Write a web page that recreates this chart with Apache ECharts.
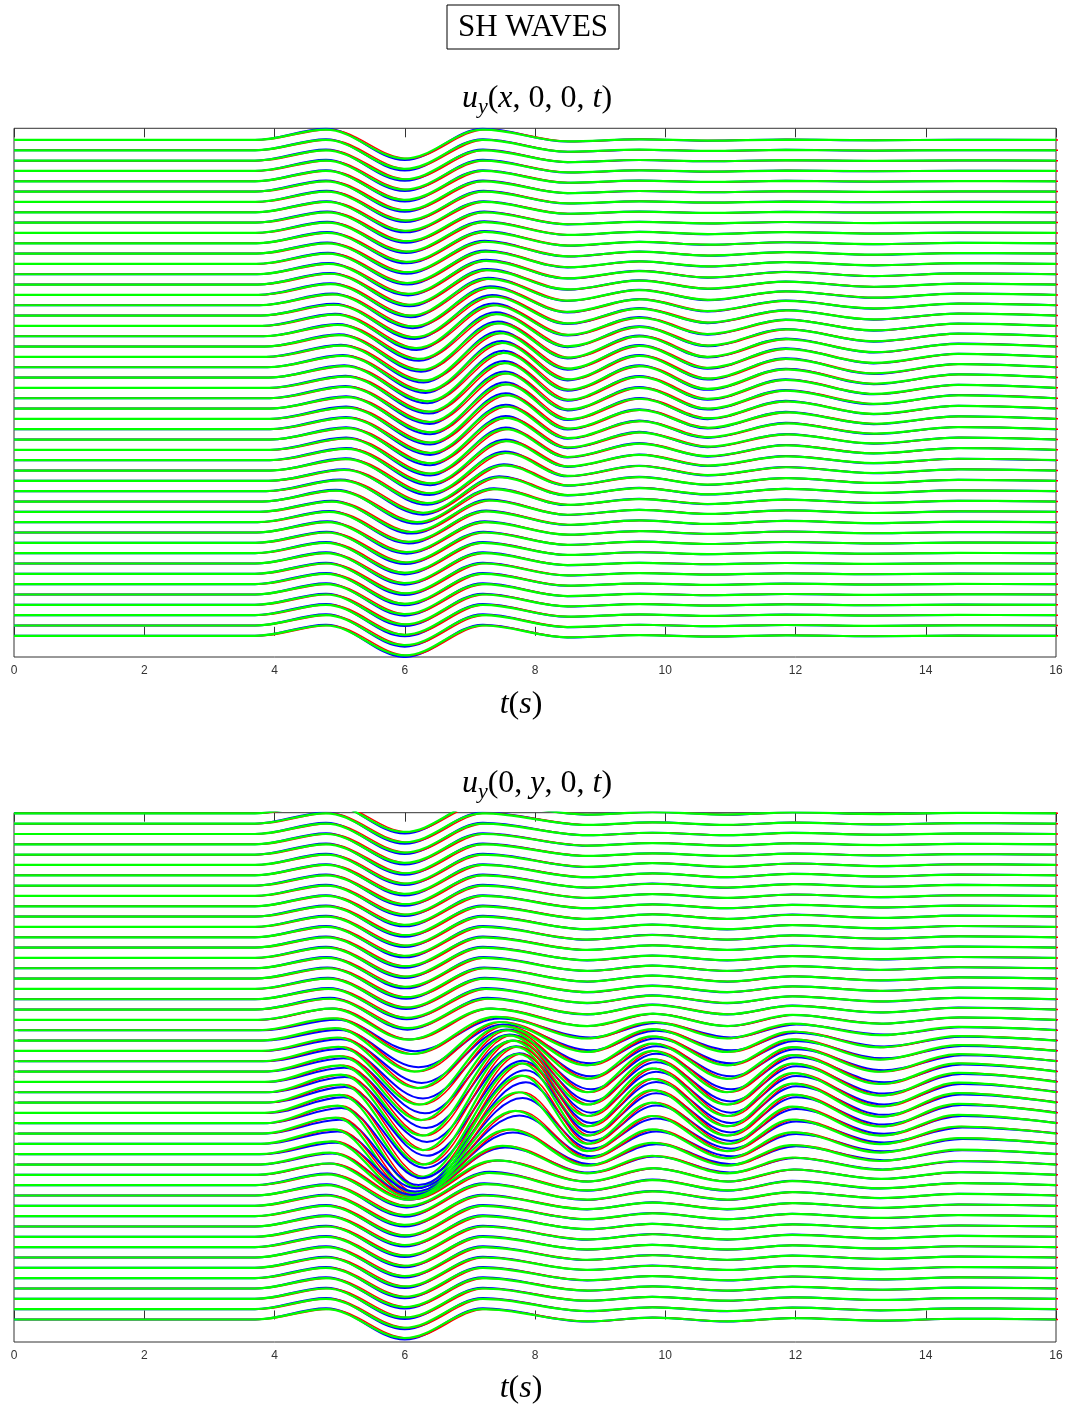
<!DOCTYPE html>
<html><head><meta charset="utf-8">
<script src="https://cdn.jsdelivr.net/npm/echarts@6/dist/echarts.min.js"></script>
<style>html,body{margin:0;padding:0;background:#fff;}#c{width:1066px;height:1405px;}</style>
</head><body><div id="c"></div>
<script>
// ---------- axis ----------
const tickLabels = ['0','2','4','6','8','10','12','14','16'];

// ---------- TOP PANEL  u_y(x,0,0,t)  (49 traces, top -> bottom) ----------
const topOnset = [3.70,3.70,3.70,3.70,3.70,3.70,3.71,3.71,3.71,3.71, 3.72,3.72,3.72,3.73,3.74,3.75,3.77,3.79,3.81,3.83,
  3.85,3.87,3.89,3.91,3.92,3.93,3.93,3.93,3.93,3.93, 3.93,3.93,3.93,3.91,3.87,3.81,3.77,3.74,3.72,3.71, 3.70,3.70,3.70,3.70,3.70,3.70,3.70,3.70,3.70];
const topP1t = [4.79,4.79,4.79,4.79,4.79,4.79,4.80,4.80,4.81,4.81, 4.81,4.81,4.82,4.83,4.85,4.86,4.89,4.91,4.93,4.97,
  4.99,5.02,5.05,5.07,5.09,5.09,5.10,5.10,5.10,5.10, 5.10,5.10,5.09,5.07,5.01,4.94,4.88,4.84,4.81,4.80, 4.79,4.79,4.79,4.79,4.79,4.79,4.79,4.79,4.79];
const topP1a = [1,1,1,1,1,1,1,1,1,1, 1,1,1,1,1.05,1.05,1.05,1.05,1.1,1.1,
  1.1,1.1,1.1,1.1,1.1,1.1,1.1,1.1,1.1,1.1, 1.1,1.1,1.1,1.05,1.05,1.05,1,1,1,1, 1,1,1,1,1,1,1,1,1];
const topT1t = [6.00,6.00,6.00,6.00,6.00,6.00,6.01,6.01,6.02,6.02, 6.03,6.03,6.04,6.05,6.07,6.09,6.12,6.15,6.18,6.22,
  6.25,6.29,6.32,6.35,6.37,6.38,6.39,6.39,6.39,6.39, 6.39,6.39,6.38,6.35,6.28,6.19,6.11,6.06,6.03,6.01, 6.00,6.00,6.00,6.00,6.00,6.00,6.00,6.00,6.00];
const topT1a = [1.8,1.8,1.8,1.8,1.8,1.8,1.8,1.8,1.8,1.8, 1.8,1.8,1.85,1.9,1.95,2.0,2.05,2.1,2.15,2.2,
  2.25,2.3,2.3,2.3,2.3,2.3,2.3,2.3,2.3,2.3, 2.3,2.25,2.2,2.15,2.1,2.0,1.95,1.9,1.9,1.9, 1.9,1.9,1.9,1.9,1.9,1.9,1.9,1.9,1.9];
const topP2t = [7.20,7.20,7.20,7.20,7.20,7.20,7.21,7.21,7.22,7.22, 7.23,7.23,7.24,7.25,7.26,7.28,7.31,7.34,7.36,7.40,
  7.43,7.46,7.49,7.52,7.53,7.54,7.55,7.55,7.55,7.55, 7.55,7.55,7.54,7.52,7.45,7.37,7.30,7.25,7.23,7.21, 7.20,7.20,7.20,7.20,7.20,7.20,7.20,7.20,7.20];
const topP2a = [1,1,1,1,1,1,1,1,1,1.05, 1.1,1.15,1.2,1.3,1.4,1.55,1.7,1.85,2.0,2.15,
  2.25,2.3,2.35,2.4,2.4,2.4,2.35,2.3,2.2,2.1, 2.0,1.85,1.7,1.5,1.35,1.2,1.1,1.05,1,1, 1,1,1,1,1,1,1,1,1];
const topLateT = [8.5, 9.6, 10.65, 11.85, 13.2, 14.5, 16];
const topLateA = [
 [-0.14,0.06,-0.06,0.04,-0.03,0.02,0],[-0.14,0.06,-0.06,0.04,-0.03,0.02,0],[-0.14,0.06,-0.06,0.04,-0.03,0.02,0],[-0.14,0.06,-0.06,0.04,-0.03,0.02,0],
 [-0.14,0.06,-0.06,0.04,-0.03,0.02,0],[-0.14,0.06,-0.06,0.04,-0.03,0.02,0],[-0.14,0.06,-0.06,0.04,-0.03,0.02,0],[-0.14,0.06,-0.06,0.04,-0.03,0.02,0],
 [-0.16,0.08,-0.08,0.06,-0.04,0.02,0],[-0.19,0.11,-0.11,0.08,-0.06,0.03,0],[-0.22,0.14,-0.14,0.10,-0.08,0.04,0],[-0.27,0.19,-0.19,0.14,-0.10,0.05,0],
 [-0.32,0.24,-0.24,0.18,-0.13,0.07,0],[-0.39,0.31,-0.31,0.22,-0.17,0.08,0],[-0.47,0.39,-0.39,0.28,-0.21,0.10,0],[-0.55,0.47,-0.47,0.34,-0.26,0.13,0],
 [-0.65,0.57,-0.57,0.42,-0.31,0.16,0],[-0.76,0.68,-0.68,0.50,-0.37,0.19,0],[-0.87,0.79,-0.79,0.58,-0.43,0.22,0],[-0.98,0.90,-0.90,0.66,-0.49,0.25,0],
 [-1.07,0.99,-0.99,0.72,-0.54,0.27,0],[-1.14,1.06,-1.06,0.77,-0.58,0.29,0],[-1.18,1.10,-1.10,0.80,-0.60,0.30,0],[-1.18,1.10,-1.10,0.80,-0.60,0.30,0],
 [-1.15,1.07,-1.07,0.78,-0.58,0.29,0],[-1.09,1.01,-1.01,0.74,-0.55,0.28,0],[-1.03,0.95,-0.95,0.69,-0.52,0.26,0],[-0.95,0.87,-0.87,0.63,-0.47,0.24,0],
 [-0.86,0.78,-0.78,0.57,-0.43,0.21,0],[-0.77,0.69,-0.69,0.50,-0.38,0.19,0],[-0.69,0.61,-0.61,0.44,-0.33,0.17,0],[-0.60,0.52,-0.52,0.38,-0.28,0.14,0],
 [-0.52,0.44,-0.44,0.32,-0.24,0.12,0],[-0.44,0.36,-0.36,0.26,-0.20,0.10,0],[-0.38,0.30,-0.30,0.22,-0.16,0.08,0],[-0.32,0.24,-0.24,0.18,-0.13,0.07,0],
 [-0.28,0.20,-0.20,0.14,-0.11,0.05,0],[-0.25,0.17,-0.17,0.12,-0.09,0.05,0],[-0.21,0.13,-0.13,0.10,-0.07,0.04,0],[-0.19,0.11,-0.11,0.08,-0.06,0.03,0],
 [-0.17,0.09,-0.09,0.06,-0.05,0.02,0],[-0.15,0.07,-0.07,0.05,-0.04,0.02,0],[-0.15,0.07,-0.07,0.05,-0.04,0.02,0],[-0.15,0.07,-0.07,0.05,-0.04,0.02,0],
 [-0.15,0.07,-0.07,0.05,-0.04,0.02,0],[-0.15,0.07,-0.07,0.05,-0.04,0.02,0],[-0.15,0.07,-0.07,0.05,-0.04,0.02,0],[-0.15,0.07,-0.07,0.05,-0.04,0.02,0],
 [-0.15,0.07,-0.07,0.05,-0.04,0.02,0]
];
const topBlueGain = [1.08,1.08,1.08,1.08,1.08,1.08,1.08,1.08,1.08,1.08, 1.08,1.08,1.08,1.08,1.08,1.08,1.08,1.08,1.08,1.08,
  1.08,1.08,1.08,1.08,1.08,1.08,1.08,1.08,1.08,1.08, 1.08,1.08,1.08,1.08,1.08,1.08,1.08,1.08,1.08,1.08, 1.08,1.08,1.08,1.08,1.08,1.08,1.08,1.08,1.08];
const topBlueLag = [0,0,0,0,0,0,0,0,0,0, 0,0,0,0,0,0,0,0,0,0, 0,0,0,0,0,0,0,0,0,0, 0,0,0,0,0,0,0,0,0,0, 0,0,0,0,0,0,0,0,0];
const topRedLag = 0.05;

// ---------- BOTTOM PANEL  u_y(0,y,0,t)  (50 traces, top -> bottom) ----------
const botOnset = [3.70,3.70,3.70,3.70,3.70,3.70,3.70,3.70,3.70,3.70, 3.70,3.70,3.70,3.70,3.70,3.70,3.70,3.70,3.70,3.70,
  3.74,3.76,3.78,3.80,3.82,3.84,3.85,3.86,3.86,3.85, 3.83,3.81,3.79,3.77,3.75,3.73,3.71,3.70,3.70,3.70, 3.70,3.70,3.70,3.70,3.70,3.70,3.70,3.70,3.70,3.70];
const botP1t = [4.79,4.79,4.79,4.79,4.79,4.79,4.79,4.79,4.79,4.79, 4.79,4.79,4.79,4.79,4.79,4.80,4.81,4.82,4.83,4.85,
  4.87,4.90,4.93,4.96,4.98,5.00,5.01,5.02,5.02,5.00, 4.97,4.94,4.91,4.88,4.85,4.83,4.81,4.80,4.79,4.79, 4.79,4.79,4.79,4.79,4.79,4.79,4.79,4.79,4.79,4.79];
const botP1a = [1,1,1,1,1,1,1,1,1,1, 1,1,1,1,1,1,1,1,1,1.05,
  1.1,1.15,1.2,1.3,1.4,1.5,1.6,1.7,1.75,1.75, 1.7,1.55,1.4,1.25,1.15,1.1,1.05,1,1,1, 1,1,1,1,1,1,1,1,1,1];
const botT1t = [6.00,6.00,6.00,6.00,6.00,6.00,6.00,6.00,6.00,6.00, 6.00,6.00,6.00,6.00,6.00,6.01,6.02,6.02,6.03,6.04,
  6.05,6.10,6.15,6.20,6.22,6.25,6.27,6.28,6.28,6.25, 6.20,6.15,6.12,6.10,6.08,6.05,6.03,6.00,6.00,6.00, 6.00,6.00,6.00,6.00,6.00,6.00,6.00,6.00,6.00,6.00];
const botT1a = [1.8,1.8,1.8,1.8,1.8,1.8,1.8,1.8,1.8,1.8, 1.8,1.8,1.8,1.8,1.8,1.8,1.8,1.8,1.8,1.8,
  1.9,2.3,3.0,3.6,4.2,4.7,5.2,5.6,6.0,6.2, 6.2,5.8,5.0,4.1,3.2,2.4,2.0,1.9,1.85,1.85, 1.8,1.8,1.8,1.8,1.8,1.8,1.8,1.8,1.8,1.8];
const botP2t = [7.20,7.20,7.20,7.20,7.20,7.20,7.20,7.20,7.20,7.20, 7.20,7.20,7.20,7.20,7.20,7.21,7.22,7.23,7.25,7.27,
  7.30,7.40,7.45,7.50,7.55,7.60,7.65,7.70,7.75,7.80, 7.80,7.75,7.70,7.60,7.50,7.40,7.30,7.22,7.20,7.20, 7.20,7.20,7.20,7.20,7.20,7.20,7.20,7.20,7.20,7.20];
const botP2a = [1,1,1,1,1,1,1,1,1,1, 1,1,1,1,1,1,1,1,1,1.05,
  1.1,1.3,1.8,2.4,3.0,3.5,4.0,4.4,4.7,4.8, 4.6,4.0,3.2,2.4,1.8,1.4,1.2,1.1,1,1, 1,1,1,1,1,1,1,1,1,1];
const botLateT = [8.8, 9.8, 10.95, 11.95, 13.3, 14.5, 16];
const botLateA = [
 [-0.12,0.12,-0.12,0.10,-0.07,0.05,0],[-0.12,0.12,-0.12,0.10,-0.07,0.05,0],[-0.12,0.12,-0.12,0.10,-0.07,0.05,0],[-0.12,0.12,-0.12,0.10,-0.07,0.05,0],[-0.12,0.12,-0.12,0.10,-0.07,0.05,0],
 [-0.18,0.18,-0.18,0.14,-0.11,0.07,0],[-0.18,0.18,-0.18,0.14,-0.11,0.07,0],[-0.18,0.18,-0.18,0.14,-0.11,0.07,0],[-0.18,0.18,-0.18,0.14,-0.11,0.07,0],[-0.18,0.18,-0.18,0.14,-0.11,0.07,0],
 [-0.22,0.22,-0.22,0.18,-0.13,0.09,0],[-0.22,0.22,-0.22,0.18,-0.13,0.09,0],[-0.22,0.22,-0.22,0.18,-0.13,0.09,0],[-0.22,0.22,-0.22,0.18,-0.13,0.09,0],[-0.22,0.22,-0.22,0.18,-0.13,0.09,0],
 [-0.25,0.25,-0.25,0.20,-0.15,0.10,0],[-0.28,0.28,-0.28,0.22,-0.17,0.11,0],[-0.30,0.30,-0.30,0.24,-0.18,0.12,0],[-0.35,0.35,-0.35,0.28,-0.21,0.14,0],[-0.45,0.45,-0.45,0.36,-0.27,0.18,0],
 [-0.60,0.60,-0.60,0.48,-0.36,0.24,0],[-0.80,0.80,-0.80,0.64,-0.48,0.32,0],[-1.10,1.10,-1.10,0.88,-0.66,0.44,0],[-1.40,1.40,-1.40,1.12,-0.84,0.56,0],[-1.70,1.70,-1.70,1.36,-1.02,0.68,0],
 [-2.00,2.00,-2.00,1.60,-1.20,0.80,0],[-2.20,2.20,-2.20,1.76,-1.32,0.88,0],[-2.30,2.30,-2.30,1.84,-1.38,0.92,0],[-2.30,2.30,-2.30,1.84,-1.38,0.92,0],[-2.20,2.20,-2.20,1.76,-1.32,0.88,0],
 [-2.00,2.00,-2.00,1.60,-1.20,0.80,0],[-1.70,1.70,-1.70,1.36,-1.02,0.68,0],[-1.40,1.40,-1.40,1.12,-0.84,0.56,0],[-1.10,1.10,-1.10,0.88,-0.66,0.44,0],[-0.85,0.85,-0.85,0.68,-0.51,0.34,0],
 [-0.65,0.65,-0.65,0.52,-0.39,0.26,0],[-0.50,0.50,-0.50,0.40,-0.30,0.20,0],[-0.40,0.40,-0.40,0.32,-0.24,0.16,0],[-0.32,0.32,-0.32,0.26,-0.19,0.13,0],[-0.28,0.28,-0.28,0.22,-0.17,0.11,0],
 [-0.25,0.25,-0.25,0.20,-0.15,0.10,0],[-0.25,0.25,-0.25,0.20,-0.15,0.10,0],[-0.22,0.22,-0.22,0.18,-0.13,0.09,0],[-0.22,0.22,-0.22,0.18,-0.13,0.09,0],[-0.20,0.20,-0.20,0.16,-0.12,0.08,0],
 [-0.20,0.20,-0.20,0.16,-0.12,0.08,0],[-0.20,0.20,-0.20,0.16,-0.12,0.08,0],[-0.18,0.18,-0.18,0.14,-0.11,0.07,0],[-0.18,0.18,-0.18,0.14,-0.11,0.07,0],[-0.18,0.18,-0.18,0.14,-0.11,0.07,0]
];
const botBlueGain = [1.08,1.08,1.08,1.08,1.08,1.08,1.08,1.08,1.08,1.08, 1.08,1.08,1.08,1.08,1.08,1.08,1.08,1.08,1.08,1.08,
  1.0,0.88,0.86,0.86,0.86,0.86,0.86,0.86,0.86,0.86, 0.86,0.86,0.86,0.88,0.92,1.0,1.08,1.08,1.08,1.08, 1.08,1.08,1.08,1.08,1.08,1.08,1.08,1.08,1.08,1.08];
const botBlueLag = [0,0,0,0,0,0,0,0,0,0, 0,0,0,0,0,0,0,0,0,0,
  0.02,0.06,0.06,0.06,0.06,0.06,0.06,0.06,0.06,0.06, 0.06,0.06,0.06,0.06,0.04,0.02,0,0,0,0, 0,0,0,0,0,0,0,0,0,0];
const botRedLag = 0.05;

// ---------- build ----------
const panels = [
  {n:49, onset:topOnset, p1t:topP1t, p1a:topP1a, t1t:topT1t, t1a:topT1a, p2t:topP2t, p2a:topP2a, lateT:topLateT, lateA:topLateA,
   bg:topBlueGain, bl:topBlueLag, rl:topRedLag},
  {n:50, onset:botOnset, p1t:botP1t, p1a:botP1a, t1t:botT1t, t1a:botT1a, p2t:botP2t, p2a:botP2a, lateT:botLateT, lateA:botLateA,
   bg:botBlueGain, bl:botBlueLag, rl:botRedLag}
];
const series = [];
function mk(gi, data, color, w){
  return {type:'line', xAxisIndex:gi*2, yAxisIndex:gi, data, showSymbol:false, symbol:'none',
    smooth:0.36, smoothMonotone:'x', clip:true, silent:true, animation:false,
    lineStyle:{color, width:w}, emphasis:{disabled:true}};
}
panels.forEach((P, gi) => {
  for (let k = 0; k < P.n; k++) {
    const base = P.n - 1 - k;
    const pts = [[0,0],[P.onset[k],0],[P.p1t[k],P.p1a[k]],[P.t1t[k],-P.t1a[k]],[P.p2t[k],P.p2a[k]]];
    P.lateT.forEach((t,i) => pts.push([t, P.lateA[k][i]]));
    series.push(mk(gi, pts.map(p => [p[0] + P.bl[k], base + P.bg[k]*p[1]]), '#0000ff', 2));
    series.push(mk(gi, pts.map(p => [p[0] + P.rl, base + p[1]]), '#ff0000', 1.5));
    series.push(mk(gi, pts.map(p => [p[0], base + p[1]]), '#00ff00', 2.2));
  }
});

const axCol = '#333333';
function xAx(gi, pos){
  return {gridIndex:gi, type:'value', min:0, max:16, interval:2, position:pos,
    axisLine:{show:false}, splitLine:{show:false},
    axisTick:{show:true, inside:true, length:9, lineStyle:{color:axCol, width:1}},
    axisLabel:{show:pos==='bottom', fontSize:12, color:'#333', fontFamily:'"Liberation Sans", Arial, sans-serif', margin:8,
      formatter: v => tickLabels[Math.round(v/2)]}};
}
function yAx(gi, min, max){
  return {gridIndex:gi, type:'value', min, max, show:false, splitLine:{show:false}};
}
const serif = '"Liberation Serif", "DejaVu Serif", serif';
const rich = {
  i:{fontFamily:serif, fontStyle:'italic', fontSize:32, lineHeight:38, fill:'#000', color:'#000'},
  n:{fontFamily:serif, fontSize:32, lineHeight:38, fill:'#000', color:'#000'},
  s:{fontFamily:serif, fontStyle:'italic', fontSize:22, lineHeight:22, verticalAlign:'bottom', fill:'#000', color:'#000'}
};
const chart = echarts.init(document.getElementById('c'), null, {renderer:'canvas'});
chart.setOption({
  animation:false,
  backgroundColor:'#ffffff',
  grid:[
    {left:14, top:128.3, width:1042, height:528.7, show:true, borderColor:axCol, borderWidth:1, backgroundColor:'transparent'},
    {left:14, top:812.7, width:1042, height:529.3, show:true, borderColor:axCol, borderWidth:1, backgroundColor:'transparent'}
  ],
  xAxis:[xAx(0,'bottom'), xAx(0,'top'), xAx(1,'bottom'), xAx(1,'top')],
  yAxis:[yAx(0,-2.05,49.13), yAx(1,-2.18,49.06)],
  series,
  graphic:[
    {type:'rect', shape:{x:447, y:5, width:172, height:44}, style:{fill:'#fff', stroke:'#000', lineWidth:1}, z:10},
    {type:'text', x:533, y:28, z:11, style:{text:'SH WAVES', font:'31px "Liberation Serif"', fill:'#000', align:'center', verticalAlign:'middle'}},
    {type:'text', x:537, y:99, z:11, style:{text:'{i|u}{s|y}{n|(}{i|x}{n|, 0, 0, }{i|t}{n|)}', rich, align:'center', verticalAlign:'middle'}},
    {type:'text', x:521, y:705, z:11, style:{text:'{i|t}{n|(}{i|s}{n|)}', rich, align:'center', verticalAlign:'middle'}},
    {type:'text', x:537, y:784, z:11, style:{text:'{i|u}{s|y}{n|(0, }{i|y}{n|, 0, }{i|t}{n|)}', rich, align:'center', verticalAlign:'middle'}},
    {type:'text', x:521, y:1389, z:11, style:{text:'{i|t}{n|(}{i|s}{n|)}', rich, align:'center', verticalAlign:'middle'}}
  ]
});
</script>
</body></html>
